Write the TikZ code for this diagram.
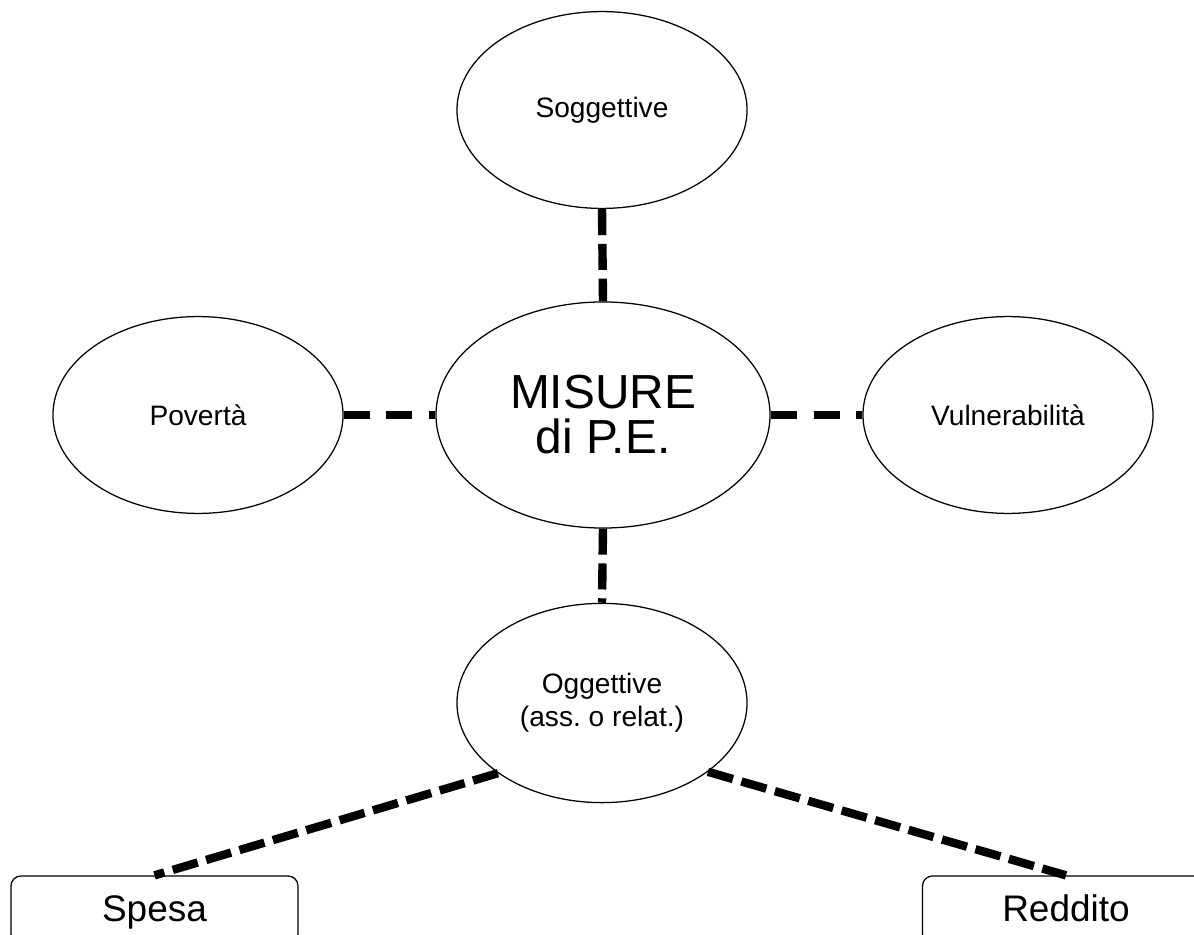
\documentclass[tikz,border=0pt]{standalone}
\usepackage{fontspec}
\setmainfont{Liberation Sans}
\usetikzlibrary{shapes.geometric}

\begin{document}
\begin{tikzpicture}[x=.025cm, y=.025cm,
 oval/.style={ellipse, draw, line width=.9pt, minimum width=7.25cm, minimum height=4.92cm, inner sep=0pt, align=center, font=\fontsize{20}{23.5}\selectfont},
 leaf/.style={draw, rounded corners=.25cm, line width=.9pt, minimum width=7.175cm, minimum height=1.7cm, inner sep=0pt, text height=20pt, text depth=3pt, font=\fontsize{26.3}{30}\selectfont},
 link/.style={line width=.21cm, dash pattern=on .65cm off .22cm},
 hlink/.style={link, dash pattern=on .65cm off .42cm}]
 \useasboundingbox (0,0) rectangle (1194,934);
 \clip (0,0) rectangle (1194,934);
 \node[oval, minimum width=8.35cm, minimum height=5.65cm, font=\fontsize{34}{32}\selectfont] (mis) at (603,519) {MISURE\\di P.E.};
 \node[oval] (sog) at (602,824) {Soggettive};
 \node[oval] (pov) at (198,519) {Povertà};
 \node[oval] (vul) at (1008,519) {Vulnerabilità};
 \node[oval, minimum height=4.98cm] (ogg) at (602,231) {Oggettive\\(ass.\ o relat.)};
 \node[leaf] (spe) at (154.5,24) {Spesa};
 \node[leaf] (red) at (1066,24) {Reddito};
 \draw[link] (sog.south) -- (mis.north);
 \draw[link] (mis.south) -- (ogg.north);
 \draw[hlink] (pov.east) -- (mis.west);
 \draw[hlink] (mis.east) -- (vul.west);
 \draw[link] (ogg.214) -- (spe.north);
 \draw[link] (ogg.327) -- (red.north);
\end{tikzpicture}
\end{document}
